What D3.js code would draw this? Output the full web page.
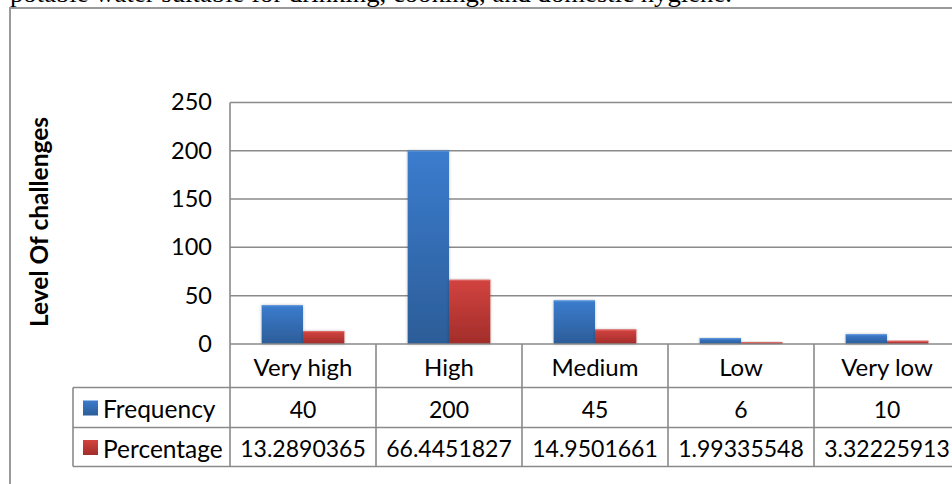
<!DOCTYPE html>
<html>
<head>
<meta charset="utf-8">
<script src="https://cdn.jsdelivr.net/npm/d3@7"></script>
<style>
  html, body { margin: 0; padding: 0; background: #fff; overflow: hidden; }
  svg { display: block; }
</style>
</head>
<body>
<svg id="chart" width="952" height="484"></svg>
<script>
// Survey data: level of challenges in accessing potable water
const categories = ["Very high", "High", "Medium", "Low", "Very low"];
const frequency = [40, 200, 45, 6, 10];
const percentage = [13.2890365, 66.4451827, 14.9501661, 1.99335548, 3.32225913];
const percentageLabels = ["13.2890365", "66.4451827", "14.9501661", "1.99335548", "3.32225913"];
const yTicks = [0, 50, 100, 150, 200, 250];
const seriesNames = ["Frequency", "Percentage"];

const svg = d3.select("#chart");
const font = "Lato, 'Open Sans', sans-serif";
const gridColor = "#8a8a8a";

// Preceding paragraph line, mostly cut off at the top edge
svg.append("text")
  .attr("x", 10).attr("y", 2)
  .attr("textLength", 722).attr("lengthAdjust", "spacingAndGlyphs")
  .style("font-family", "'Liberation Serif', 'Times New Roman', serif")
  .style("font-size", "25px").attr("fill", "#000")
  .text("potable water suitable for drinking, cooking, and domestic hygiene.");

// Chart frame
svg.append("rect")
  .attr("x", 10).attr("y", 8).attr("width", 960).attr("height", 500)
  .attr("fill", "#fff").attr("stroke", "#9a9a9a").attr("stroke-width", 2);

const plot = { left: 230, right: 960, top: 102.4, bottom: 344 };
const table = { left: 73, headerBottom: 387.5, row1Bottom: 427.5, bottom: 466.5 };

const x = d3.scaleBand().domain(categories).range([plot.left, plot.right]);
const inner = d3.scaleBand().domain(seriesNames)
  .range([0, x.bandwidth()]).paddingOuter(0.766).paddingInner(0);
const y = d3.scaleLinear().domain([0, 250]).range([plot.bottom, plot.top]);

// Gradients for the bars
const defs = svg.append("defs");
function grad(id, top, bottom) {
  const g = defs.append("linearGradient").attr("id", id)
    .attr("x1", 0).attr("y1", 0).attr("x2", 0).attr("y2", 1);
  g.append("stop").attr("offset", "0%").attr("stop-color", top);
  g.append("stop").attr("offset", "100%").attr("stop-color", bottom);
}
grad("gFreq", "#3b7cce", "#2c5d98");
grad("gPct", "#d2433f", "#a22d2a");
const shadow = defs.append("filter").attr("id", "shadow")
  .attr("x", "-20%").attr("y", "-20%").attr("width", "140%").attr("height", "140%");
shadow.append("feDropShadow").attr("dx", 0).attr("dy", 0).attr("stdDeviation", 1.6)
  .attr("flood-color", "#000").attr("flood-opacity", 0.28);

// Gridlines
svg.append("g").selectAll("line").data(yTicks.filter(d => d > 0)).join("line")
  .attr("x1", plot.left).attr("x2", plot.right)
  .attr("y1", d => y(d)).attr("y2", d => y(d))
  .attr("stroke", gridColor).attr("stroke-width", 1.5);

// Y axis labels
const yAxis = d3.axisLeft(y).tickValues(yTicks).tickSize(0).tickPadding(18);
const yg = svg.append("g").attr("transform", `translate(${plot.left},0)`).call(yAxis);
yg.select(".domain").remove();
yg.selectAll("text").style("font-family", font).style("font-size", "23.5px").attr("fill", "#000");

// Y axis title
svg.append("text")
  .attr("transform", "translate(38,222) rotate(-90)")
  .attr("text-anchor", "middle").attr("dominant-baseline", "central")
  .style("font-family", font).style("font-size", "24.5px").style("font-weight", "bold")
  .attr("fill", "#000").text("Level Of challenges");

// Bars
const barData = categories.flatMap((c, i) => [
  { cat: c, series: "Frequency", value: frequency[i], fill: "url(#gFreq)", edge: "#5b95dc" },
  { cat: c, series: "Percentage", value: percentage[i], fill: "url(#gPct)", edge: "#e06a66" }
]);
const bars = svg.append("g");
bars.selectAll("rect").data(barData).join("rect")
  .attr("x", d => x(d.cat) + inner(d.series))
  .attr("width", inner.bandwidth())
  .attr("y", d => y(d.value))
  .attr("height", d => y(0) - y(d.value))
  .attr("fill", d => d.fill)
  .attr("filter", "url(#shadow)");
bars.selectAll("line").data(barData).join("line")
  .attr("x1", d => x(d.cat) + inner(d.series))
  .attr("x2", d => x(d.cat) + inner(d.series) + inner.bandwidth())
  .attr("y1", d => y(d.value) + 0.5).attr("y2", d => y(d.value) + 0.5)
  .attr("stroke", d => d.edge).attr("stroke-width", 1);

// Axis lines: left edge of plot and baseline
const lines = svg.append("g").attr("stroke", gridColor).attr("stroke-width", 1.6);
lines.append("line").attr("x1", plot.left).attr("x2", plot.left)
  .attr("y1", plot.top).attr("y2", table.bottom);
lines.append("line").attr("x1", plot.left).attr("x2", plot.right)
  .attr("y1", plot.bottom).attr("y2", plot.bottom);

// Data table grid
x.domain().slice(1).forEach(c => {
  lines.append("line").attr("x1", x(c)).attr("x2", x(c))
    .attr("y1", plot.bottom).attr("y2", table.bottom);
});
[table.headerBottom, table.row1Bottom, table.bottom].forEach(yy => {
  lines.append("line").attr("x1", table.left).attr("x2", plot.right)
    .attr("y1", yy).attr("y2", yy);
});
lines.append("line").attr("x1", table.left).attr("x2", table.left)
  .attr("y1", table.headerBottom).attr("y2", table.bottom);

// Table text
const rowCenters = [
  (plot.bottom + table.headerBottom) / 2,
  (table.headerBottom + table.row1Bottom) / 2,
  (table.row1Bottom + table.bottom) / 2
];
const txt = svg.append("g").style("font-family", font).attr("fill", "#000");
txt.selectAll(".cat").data(categories).join("text").attr("class", "cat")
  .attr("x", d => x(d) + x.bandwidth() / 2).attr("y", rowCenters[0] + 1)
  .style("font-size", "24px")
  .attr("text-anchor", "middle").attr("dominant-baseline", "central").text(d => d);
txt.selectAll(".freq").data(frequency).join("text").attr("class", "freq")
  .attr("x", (d, i) => x(categories[i]) + x.bandwidth() / 2).attr("y", rowCenters[1] + 1)
  .style("font-size", "23px")
  .attr("text-anchor", "middle").attr("dominant-baseline", "central").text(d => d);
txt.selectAll(".pct").data(percentageLabels).join("text").attr("class", "pct")
  .attr("x", (d, i) => x(categories[i]) + x.bandwidth() / 2).attr("y", rowCenters[2] + 1)
  .style("font-size", "23px")
  .attr("text-anchor", "middle").attr("dominant-baseline", "central").text(d => d);

// Legend keys in the table rows
const legendFills = ["url(#gFreq)", "url(#gPct)"];
seriesNames.forEach((s, i) => {
  svg.append("rect").attr("x", 83).attr("y", rowCenters[i + 1] - 7)
    .attr("width", 15).attr("height", 15).attr("fill", legendFills[i]);
  txt.append("text").attr("x", 103).attr("y", rowCenters[i + 1] + 1)
    .style("font-size", "24.5px")
    .attr("dominant-baseline", "central").text(s);
});
</script>
</body>
</html>
